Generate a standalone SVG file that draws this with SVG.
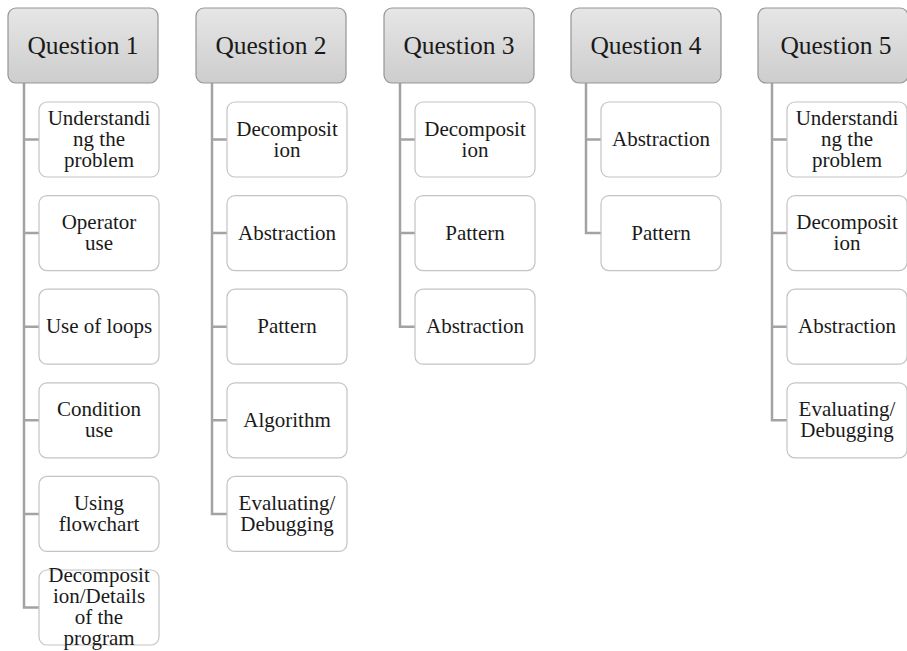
<svg xmlns="http://www.w3.org/2000/svg" width="907" height="651" viewBox="0 0 907 651" font-family="'Liberation Serif', 'Times New Roman', Times, 'DejaVu Serif', serif">
<defs>
<linearGradient id="hg" x1="0" y1="0" x2="0" y2="1">
<stop offset="0" stop-color="#e6e6e6"/>
<stop offset="1" stop-color="#cdcdcd"/>
</linearGradient>
</defs>
<style>
.h{fill:url(#hg);stroke:#959595;stroke-width:1.2}
.c{fill:#fff;stroke:#c4c4c4;stroke-width:1.2}
.ht{font-size:25.5px;fill:#1a1a1a;text-anchor:middle}
.ct{font-size:21px;fill:#1a1a1a;text-anchor:middle}
.ln{fill:none;stroke:#a3a3a3;stroke-width:2.5}
</style>
<rect width="907" height="651" fill="#fff"/>
<g id="connectors">
<path class="ln" d="M24 83V607.5H39M24 139.5H39M24 233.1H39M24 326.7H39M24 420.3H39M24 513.9H39"/>
<path class="ln" d="M212 83V513.9H227M212 139.5H227M212 233.1H227M212 326.7H227M212 420.3H227"/>
<path class="ln" d="M400 83V326.7H415M400 139.5H415M400 233.1H415"/>
<path class="ln" d="M586 83V233.1H601M586 139.5H601"/>
<path class="ln" d="M772 83V420.3H787M772 139.5H787M772 233.1H787M772 326.7H787"/>
</g>
<g id="q1">
<rect class="h" x="8" y="8" width="150" height="75" rx="8"/>
<text class="ht" x="83" y="54">Question 1</text>
</g>
<g id="q1c1"><rect class="c" x="39" y="102" width="120" height="75" rx="8"/>
<text class="ct" x="99" y="125">Understandi</text><text class="ct" x="99" y="146">ng the</text><text class="ct" x="99" y="167">problem</text></g>
<g id="q1c2"><rect class="c" x="39" y="195.6" width="120" height="75" rx="8"/>
<text class="ct" x="99" y="229">Operator</text><text class="ct" x="99" y="250">use</text></g>
<g id="q1c3"><rect class="c" x="39" y="289.2" width="120" height="75" rx="8"/>
<text class="ct" x="99" y="333.2">Use of loops</text></g>
<g id="q1c4"><rect class="c" x="39" y="382.8" width="120" height="75" rx="8"/>
<text class="ct" x="99" y="416.3">Condition</text><text class="ct" x="99" y="437.3">use</text></g>
<g id="q1c5"><rect class="c" x="39" y="476.4" width="120" height="75" rx="8"/>
<text class="ct" x="99" y="509.9">Using</text><text class="ct" x="99" y="530.9">flowchart</text></g>
<g id="q1c6"><rect class="c" x="39" y="570" width="120" height="75" rx="8"/>
<text class="ct" x="99" y="582">Decomposit</text><text class="ct" x="99" y="603">ion/Details</text><text class="ct" x="99" y="624">of the</text><text class="ct" x="99" y="645">program</text></g>

<g id="q2">
<rect class="h" x="196" y="8" width="150" height="75" rx="8"/>
<text class="ht" x="271" y="54">Question 2</text>
</g>
<g id="q2c1"><rect class="c" x="227" y="102" width="120" height="75" rx="8"/>
<text class="ct" x="287" y="135.5">Decomposit</text><text class="ct" x="287" y="156.5">ion</text></g>
<g id="q2c2"><rect class="c" x="227" y="195.6" width="120" height="75" rx="8"/>
<text class="ct" x="287" y="239.6">Abstraction</text></g>
<g id="q2c3"><rect class="c" x="227" y="289.2" width="120" height="75" rx="8"/>
<text class="ct" x="287" y="333.2">Pattern</text></g>
<g id="q2c4"><rect class="c" x="227" y="382.8" width="120" height="75" rx="8"/>
<text class="ct" x="287" y="426.8">Algorithm</text></g>
<g id="q2c5"><rect class="c" x="227" y="476.4" width="120" height="75" rx="8"/>
<text class="ct" x="287" y="509.9">Evaluating/</text><text class="ct" x="287" y="530.9">Debugging</text></g>

<g id="q3">
<rect class="h" x="384" y="8" width="150" height="75" rx="8"/>
<text class="ht" x="459" y="54">Question 3</text>
</g>
<g id="q3c1"><rect class="c" x="415" y="102" width="120" height="75" rx="8"/>
<text class="ct" x="475" y="135.5">Decomposit</text><text class="ct" x="475" y="156.5">ion</text></g>
<g id="q3c2"><rect class="c" x="415" y="195.6" width="120" height="75" rx="8"/>
<text class="ct" x="475" y="239.6">Pattern</text></g>
<g id="q3c3"><rect class="c" x="415" y="289.2" width="120" height="75" rx="8"/>
<text class="ct" x="475" y="333.2">Abstraction</text></g>

<g id="q4">
<rect class="h" x="571" y="8" width="150" height="75" rx="8"/>
<text class="ht" x="646" y="54">Question 4</text>
</g>
<g id="q4c1"><rect class="c" x="601" y="102" width="120" height="75" rx="8"/>
<text class="ct" x="661" y="146">Abstraction</text></g>
<g id="q4c2"><rect class="c" x="601" y="195.6" width="120" height="75" rx="8"/>
<text class="ct" x="661" y="239.6">Pattern</text></g>

<g id="q5">
<rect class="h" x="758" y="8" width="150" height="75" rx="8"/>
<text class="ht" x="836" y="54">Question 5</text>
</g>
<g id="q5c1"><rect class="c" x="787" y="102" width="120" height="75" rx="8"/>
<text class="ct" x="847" y="125">Understandi</text><text class="ct" x="847" y="146">ng the</text><text class="ct" x="847" y="167">problem</text></g>
<g id="q5c2"><rect class="c" x="787" y="195.6" width="120" height="75" rx="8"/>
<text class="ct" x="847" y="229">Decomposit</text><text class="ct" x="847" y="250">ion</text></g>
<g id="q5c3"><rect class="c" x="787" y="289.2" width="120" height="75" rx="8"/>
<text class="ct" x="847" y="333.2">Abstraction</text></g>
<g id="q5c4"><rect class="c" x="787" y="382.8" width="120" height="75" rx="8"/>
<text class="ct" x="847" y="416.3">Evaluating/</text><text class="ct" x="847" y="437.3">Debugging</text></g>
</svg>
